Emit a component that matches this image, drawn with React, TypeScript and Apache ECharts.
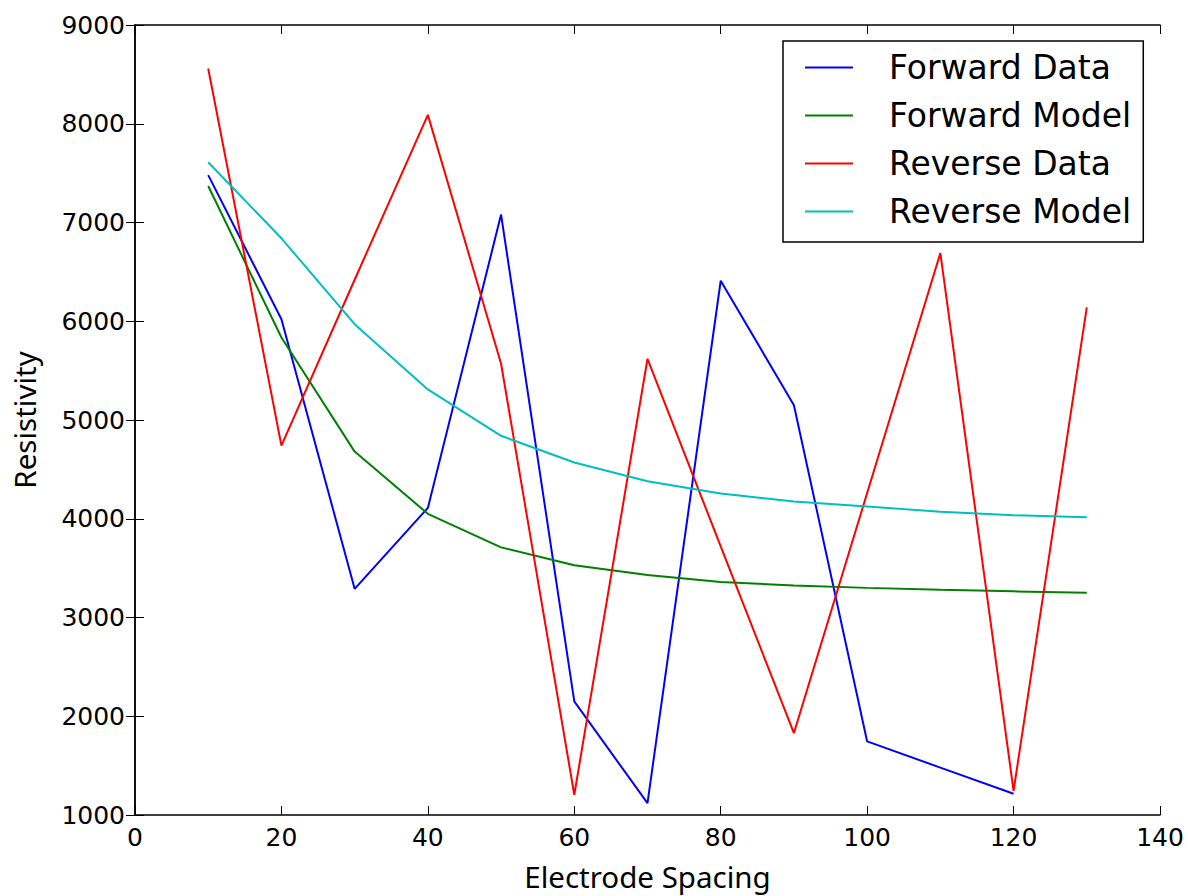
import React, { useEffect, useRef } from "react";
import * as echarts from "echarts";

const spacing = [10, 20, 30, 40, 50, 60, 70, 80, 90, 100, 110, 120, 130];
const forwardData = [7480, 6020, 3290, 4110, 7080, 2150, 1120, 6410, 5150, 1745, 1480, 1215];
const forwardModel = [7370, 5835, 4680, 4050, 3710, 3530, 3430, 3360, 3325, 3300, 3280, 3265, 3250];
const reverseData = [8560, 4740, 6420, 8090, 5570, 1205, 5620, 3720, 1830, 4260, 6690, 1245, 6140];
const reverseModel = [7610, 6840, 5970, 5310, 4840, 4570, 4380, 4255, 4175, 4125, 4070, 4035, 4015];

const seriesNames = ["Forward Data", "Forward Model", "Reverse Data", "Reverse Model"];
const seriesColors = ["#0000ff", "#008000", "#ff0000", "#00bfbf"];
const seriesValues = [forwardData, forwardModel, reverseData, reverseModel];

const FONT = "DejaVu Sans";

export default function App() {
  const ref = useRef<HTMLDivElement>(null);
  useEffect(() => {
    if (!ref.current) return;
    const chart = echarts.init(ref.current, null, { renderer: "svg" });
    const axisCommon = {
      type: "value" as const,
      axisLine: { show: true, lineStyle: { color: "#000", width: 1.5 } },
      axisTick: { show: true, inside: true, length: 9, lineStyle: { color: "#000", width: 1 } },
      splitLine: { show: false },
    };
    chart.setOption({
      animation: false,
      backgroundColor: "#fff",
      grid: { left: 135, right: 28, top: 25, bottom: 79, show: false },
      legend: {
        orient: "vertical",
        left: 783,
        top: 41,
        data: seriesNames,
        icon: "rect",
        itemWidth: 48,
        itemHeight: 2,
        itemGap: 15,
        padding: [10, 12, 14, 22],
        borderColor: "#000",
        borderWidth: 1.5,
        borderRadius: 0,
        backgroundColor: "#fff",
        textStyle: {
          fontFamily: FONT,
          fontSize: 33,
          color: "#000",
          lineHeight: 33,
          padding: [0, 0, 0, 31],
        },
      },
      xAxis: [
        {
          ...axisCommon,
          min: 0,
          max: 140,
          interval: 20,
          name: "Electrode Spacing",
          nameLocation: "middle",
          nameGap: 46,
          nameTextStyle: { fontFamily: "Noto Sans", fontSize: 29.5, color: "#000" },
          axisLabel: { fontFamily: FONT, fontSize: 25, color: "#000", margin: 10 },
        },
        {
          ...axisCommon,
          position: "top",
          min: 0,
          max: 140,
          interval: 20,
          axisTick: { show: true, inside: true, length: 9, lineStyle: { color: "#000", width: 1 } },
          axisLabel: { show: false },
        },
      ],
      yAxis: [
        {
          ...axisCommon,
          min: 1000,
          max: 9000,
          interval: 1000,
          name: "Resistivity",
          nameLocation: "middle",
          nameGap: 96,
          nameTextStyle: { fontFamily: "Noto Sans", fontSize: 29.5, color: "#000" },
          axisLabel: { fontFamily: FONT, fontSize: 25, color: "#000", margin: 10, formatter: (v: number) => String(v) },
        },
        {
          ...axisCommon,
          position: "right",
          min: 1000,
          max: 9000,
          interval: 1000,
          axisTick: { show: true, inside: true, length: 9, lineStyle: { color: "#000", width: 1 } },
          axisLabel: { show: false },
        },
      ],
      series: seriesNames.map((name, i) => ({
        name,
        type: "line",
        data: seriesValues[i].map((v, j) => [spacing[j], v]),
        showSymbol: false,
        symbol: "none",
        lineStyle: { color: seriesColors[i], width: 2 },
        itemStyle: { color: seriesColors[i] },
        color: seriesColors[i],
      })),
    });
    return () => chart.dispose();
  }, []);
  return <div ref={ref} style={{ width: 1188, height: 896, position: "absolute", left: 0, top: 0 }} />;
}
